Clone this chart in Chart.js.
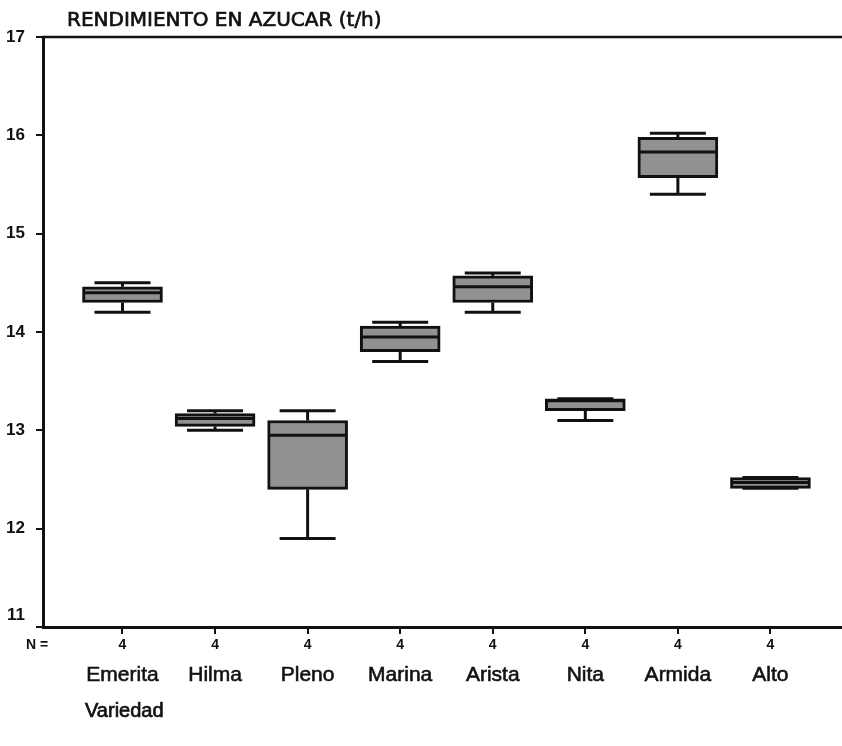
<!DOCTYPE html>
<html>
<head>
<meta charset="utf-8">
<script src="https://cdn.jsdelivr.net/npm/chart.js@4.4.1/dist/chart.umd.min.js"></script>
<style>
  html, body { margin: 0; padding: 0; background: #fff; }
  #wrap { width: 842px; height: 746px; position: relative; }
</style>
</head>
<body>
<div id="wrap"><canvas id="c"></canvas></div>
<script>
// Sugar yield (t/h) per variety: five-number summaries of each box plot
const varieties   = ['Emerita', 'Hilma', 'Pleno', 'Marina', 'Arista', 'Nita', 'Armida', 'Alto'];
const counts      = [4, 4, 4, 4, 4, 4, 4, 4];
const whiskerLow  = [14.20, 13.00, 11.90, 13.70, 14.20, 13.10, 15.40, 12.41];
const quartile1   = [14.30, 13.04, 12.40, 13.80, 14.30, 13.20, 15.57, 12.41];
const medians     = [14.40, 13.12, 12.95, 13.95, 14.46, 13.30, 15.83, 12.47];
const quartile3   = [14.46, 13.17, 13.10, 14.06, 14.57, 13.32, 15.98, 12.52];
const whiskerHigh = [14.50, 13.20, 13.20, 14.10, 14.60, 13.32, 16.02, 12.52];
const yTicks      = [11, 12, 13, 14, 15, 16, 17];

const titleText = 'RENDIMIENTO EN AZUCAR (t/h)';
const xTitle = 'Variedad';
const nLabel = 'N =';

const INK = '#111';
const X_MIN = -0.8587, X_MAX = 7.773;
const Y_MIN = 11, Y_MAX = 17;
const yTickFont = 'bold 17px "Liberation Sans"';

// whiskers, caps and median lines, positioned through the chart scales
const boxPlotPlugin = {
  id: 'boxWhiskers',
  afterDatasetsDraw(chart) {
    const { ctx, scales: { x, y } } = chart;
    const meta = chart.getDatasetMeta(0);
    ctx.save();
    ctx.strokeStyle = INK;
    ctx.lineWidth = 3;
    ctx.lineCap = 'butt';
    const seg = (x1, y1, x2, y2) => {
      ctx.beginPath(); ctx.moveTo(x1, y1); ctx.lineTo(x2, y2); ctx.stroke();
    };
    varieties.forEach((name, i) => {
      const cx = x.getPixelForValue(i);
      const half = meta.data[i].width / 2;
      const cap = half * 0.7;
      const pHi = y.getPixelForValue(whiskerHigh[i]);
      const pQ3 = y.getPixelForValue(quartile3[i]);
      const pQ1 = y.getPixelForValue(quartile1[i]);
      const pLo = y.getPixelForValue(whiskerLow[i]);
      const pMed = y.getPixelForValue(medians[i]);
      seg(cx, pQ3, cx, pHi);
      seg(cx, pQ1, cx, pLo);
      seg(cx - cap, pHi, cx + cap, pHi);
      seg(cx - cap, pLo, cx + cap, pLo);
      seg(cx - half + 2, pMed, cx + half - 2, pMed);
    });
    ctx.restore();
  }
};

// top frame line, the lowest y label (sits just above the base line) and free-standing texts
const framePlugin = {
  id: 'frameTexts',
  afterDraw(chart) {
    const { ctx, chartArea: { left, right, top, bottom } } = chart;
    ctx.save();
    ctx.strokeStyle = INK;
    ctx.lineWidth = 2.5;
    ctx.beginPath(); ctx.moveTo(left - 1.5, top); ctx.lineTo(right, top); ctx.stroke();
    ctx.fillStyle = INK;

    ctx.textAlign = 'right';
    ctx.textBaseline = 'middle';
    ctx.font = yTickFont;
    ctx.fillText(String(Y_MIN), left - 18, chart.scales.y.getPixelForValue(Y_MIN) - 12);

    ctx.textAlign = 'left';
    ctx.textBaseline = 'alphabetic';
    ctx.lineWidth = 0.7;
    ctx.font = '20px "DejaVu Sans"';
    ctx.strokeText(titleText, 67, 26);
    ctx.fillText(titleText, 67, 26);
    ctx.font = '20px "Liberation Sans"';
    ctx.strokeText(xTitle, 85, 717);
    ctx.fillText(xTitle, 85, 717);
    ctx.textBaseline = 'middle';
    ctx.font = 'bold 14px "Liberation Sans"';
    ctx.fillText(nLabel, 26, bottom + 18);
    ctx.restore();
  }
};

const indexTicks = s => { s.ticks = varieties.map((_, i) => ({ value: i })); };

new Chart(document.getElementById('c'), {
  type: 'bar',
  data: {
    datasets: [{
      label: 'Rendimiento',
      data: varieties.map((v, i) => ({ x: i, y: [quartile1[i], quartile3[i]] })),
      xAxisID: 'x',
      yAxisID: 'y',
      backgroundColor: '#919191',
      borderColor: INK,
      borderWidth: 3,
      borderSkipped: false,
      barThickness: 80
    }]
  },
  options: {
    responsive: true,
    maintainAspectRatio: false,
    animation: false,
    layout: { padding: { top: 37, right: 0, bottom: 49, left: 0 } },
    plugins: { legend: { display: false }, tooltip: { enabled: false }, title: { display: false } },
    scales: {
      x: {
        type: 'linear',
        position: 'bottom',
        weight: 0,
        offset: false,
        min: X_MIN,
        max: X_MAX,
        afterBuildTicks: indexTicks,
        afterFit: s => { s.height = 30; },
        border: { display: true, color: INK, width: 3 },
        grid: { display: true, offset: false, drawOnChartArea: false, drawTicks: true, tickLength: 7, color: INK, lineWidth: 2 },
        ticks: {
          autoSkip: false, maxRotation: 0, padding: 3, color: INK,
          font: { family: '"Liberation Sans", Arial', size: 14, weight: 'bold' },
          callback: (v, idx) => String(counts[idx])
        }
      },
      x2: {
        type: 'linear',
        position: 'bottom',
        weight: 1,
        offset: false,
        min: X_MIN,
        max: X_MAX,
        afterBuildTicks: indexTicks,
        afterFit: s => { s.height = 40; },
        border: { display: false },
        grid: { display: false, offset: false, drawTicks: false },
        ticks: {
          autoSkip: false, maxRotation: 0, padding: 6, color: INK,
          textStrokeColor: INK, textStrokeWidth: 0.6,
          font: { family: '"Liberation Sans", Arial', size: 21 },
          callback: (v, idx) => varieties[idx]
        }
      },
      y: {
        min: Y_MIN,
        max: Y_MAX,
        afterBuildTicks: s => { s.ticks = yTicks.map(v => ({ value: v })); },
        afterFit: s => { s.width = 43; },
        border: { display: true, color: INK, width: 3 },
        grid: { display: true, drawOnChartArea: false, drawTicks: true, tickLength: 7, color: INK, lineWidth: 2 },
        ticks: {
          padding: 11, color: INK,
          font: { family: '"Liberation Sans", Arial', size: 17, weight: 'bold' },
          callback: v => (v === Y_MIN ? '' : String(v))
        }
      }
    }
  },
  plugins: [boxPlotPlugin, framePlugin]
});
</script>
</body>
</html>
